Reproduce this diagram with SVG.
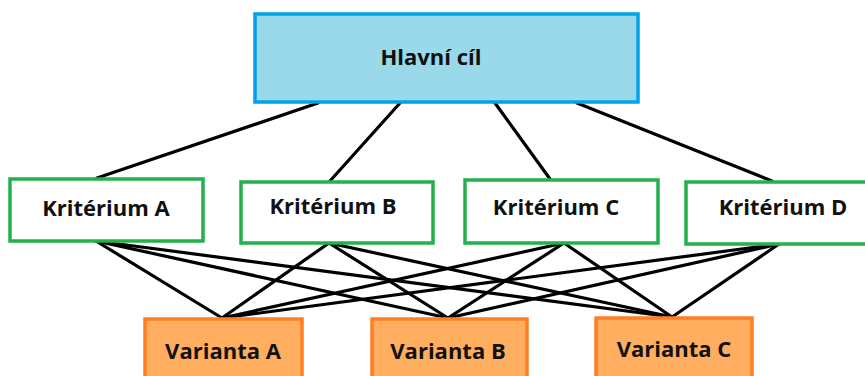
<svg xmlns="http://www.w3.org/2000/svg" width="865" height="376" viewBox="0 0 865 376">
<style>
.goal{fill:#99d9ea;stroke:#00a2e8;stroke-width:3.5}
.crit{fill:#ffffff;stroke:#22b14c;stroke-width:3.5}
.var{fill:#ffad5e;stroke:#ff7f27;stroke-width:3.5}
.lbl{font-family:"Open Sans","Noto Sans",sans-serif;font-weight:bold;font-size:22px;fill:#111;text-anchor:middle}
.conn line{stroke:#000;stroke-width:3.2;stroke-linecap:round}
</style>
<rect width="865" height="376" fill="#fff"/>
<g class="conn" id="connectors">
<line x1="318" y1="103" x2="97" y2="178"/>
<line x1="400" y1="103" x2="330" y2="181"/>
<line x1="495" y1="103" x2="550" y2="179"/>
<line x1="577" y1="103" x2="772" y2="181"/>
<line x1="96" y1="241" x2="222" y2="318"/>
<line x1="96" y1="241" x2="448" y2="318"/>
<line x1="96" y1="241" x2="672" y2="317"/>
<line x1="329" y1="243" x2="222" y2="318"/>
<line x1="329" y1="243" x2="448" y2="318"/>
<line x1="329" y1="243" x2="672" y2="317"/>
<line x1="564" y1="243" x2="222" y2="318"/>
<line x1="564" y1="243" x2="448" y2="318"/>
<line x1="564" y1="243" x2="672" y2="317"/>
<line x1="779" y1="244" x2="222" y2="318"/>
<line x1="779" y1="244" x2="448" y2="318"/>
<line x1="779" y1="244" x2="672" y2="317"/>
</g>
<g id="goal"><rect class="goal" x="255" y="14" width="383" height="88"/><text class="lbl" x="431" y="65">Hlavní cíl</text></g>
<g id="critA"><rect class="crit" x="10" y="179" width="193" height="62"/><text class="lbl" x="106" y="216">Kritérium A</text></g>
<g id="critB"><rect class="crit" x="241" y="182" width="192" height="61"/><text class="lbl" x="333" y="214">Kritérium B</text></g>
<g id="critC"><rect class="crit" x="465" y="180" width="193" height="63"/><text class="lbl" x="556" y="215">Kritérium C</text></g>
<g id="critD"><rect class="crit" x="686" y="182" width="182" height="62"/><text class="lbl" x="783" y="215">Kritérium D</text></g>
<g id="varA"><rect class="var" x="145" y="319" width="157" height="62"/><text class="lbl" x="223" y="359">Varianta A</text></g>
<g id="varB"><rect class="var" x="372" y="319" width="155" height="62"/><text class="lbl" x="448" y="359">Varianta B</text></g>
<g id="varC"><rect class="var" x="596" y="318" width="156" height="62"/><text class="lbl" x="674" y="357">Varianta C</text></g>
</svg>
